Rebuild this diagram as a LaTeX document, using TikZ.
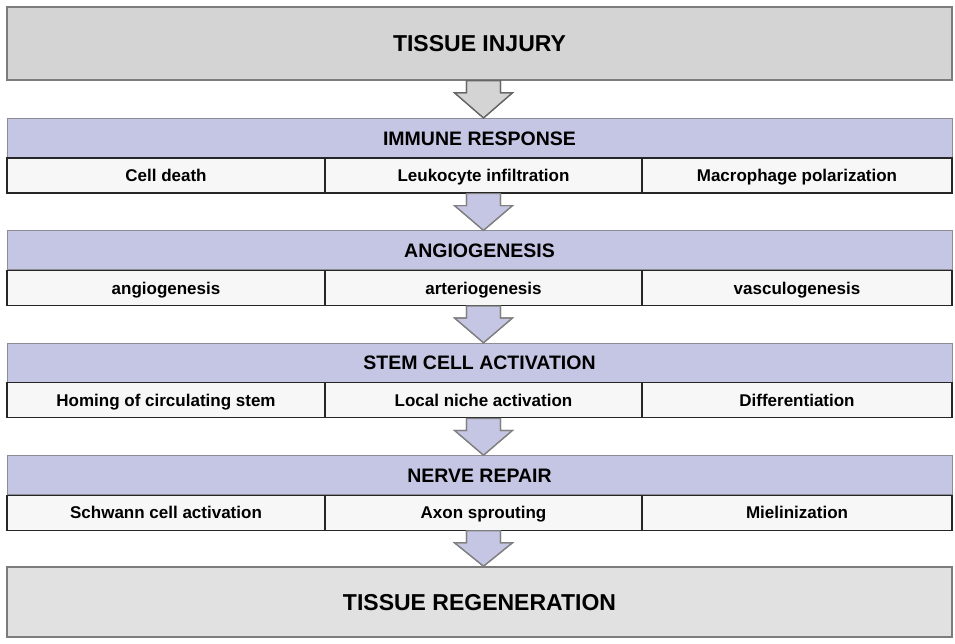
\documentclass[tikz,border=0pt]{standalone}
\usepackage{fontspec}
\setmainfont{Liberation Sans}
\usetikzlibrary{calc}
\definecolor{lav}{HTML}{C5C6E3}
\definecolor{graytop}{HTML}{D4D4D4}
\definecolor{graybot}{HTML}{E1E1E1}
\definecolor{edgegray}{HTML}{7C7C7C}
\definecolor{hdredge}{HTML}{8C8C96}
\definecolor{cellfill}{HTML}{F7F7F7}
\newcommand\blockarr[3]{%
  \coordinate (bas) at (#1);
  \coordinate (tip) at (#2);
  \fill[#3] ($(bas)+(-17,0)$) -- ($(bas)+(17,0)$) -- ($(bas)+(17,12)$) -- ($(bas)+(29,12)$) -- (tip)
     -- ($(bas)+(-29,12)$) -- ($(bas)+(-17,12)$) -- cycle;
  \draw[#3, fill=none, line join=miter] ($(bas)+(17,0)$) -- ($(bas)+(17,12)$) -- ($(bas)+(29,12)$) -- (tip)
     -- ($(bas)+(-29,12)$) -- ($(bas)+(-17,12)$) -- ($(bas)+(-17,0)$);
}
\begin{document}
\begin{tikzpicture}[x=1pt,y=-1pt,
  bigbox/.style={draw=edgegray, line width=1.6pt, minimum width=945pt, inner sep=0pt,
    text height=16.5pt, text depth=0pt, font=\fontsize{23}{26}\selectfont\bfseries},
  header/.style={draw=hdredge, line width=1pt, fill=lav, minimum width=945pt, minimum height=39pt,
    inner sep=0pt, text height=14pt, text depth=0pt, font=\fontsize{19.5}{22}\selectfont\bfseries},
  cell/.style={draw=black!85, line width=1.2pt, fill=cellfill, minimum height=35pt, inner sep=0pt,
    text height=12.2pt, text depth=0pt, font=\fontsize{17}{20}\selectfont\bfseries},
  arrgray/.style={fill=graytop, draw=black!60, line width=1.2pt},
  arrlav/.style={fill=lav, draw=black!50, line width=1.2pt}
]
\useasboundingbox (0,0) rectangle (955,643);
\fill[white] (0,0) rectangle (955,643);

% top and bottom boxes
\node[bigbox, fill=graytop, minimum height=73pt] (top) at (479.5,43.5) {TISSUE INJURY};
\node[bigbox, fill=graybot, minimum height=70pt] (bot) at (479.5,602) {TISSUE REGENERATION};

% row 1
\node[header] (h1) at (479.5,138) {IMMUNE RESPONSE};
\node[cell, minimum width=318pt] (c11) at (166,175.5) {Cell death};
\node[cell, minimum width=317pt] (c12) at (483.5,175.5) {Leukocyte infiltration};
\node[cell, minimum width=310pt] (c13) at (797,175.5) {Macrophage polarization};
% row 2
\node[header] (h2) at (479.5,250.4) {ANGIOGENESIS};
\node[cell, minimum width=318pt] (c21) at (166,287.9) {angiogenesis};
\node[cell, minimum width=317pt] (c22) at (483.5,287.9) {arteriogenesis};
\node[cell, minimum width=310pt] (c23) at (797,287.9) {vasculogenesis};
% row 3
\node[header] (h3) at (479.5,362.8) {STEM CELL ACTIVATION};
\node[cell, minimum width=318pt] (c31) at (166,400.3) {Homing of circulating stem};
\node[cell, minimum width=317pt] (c32) at (483.5,400.3) {Local niche activation};
\node[cell, minimum width=310pt] (c33) at (797,400.3) {Differentiation};
% row 4
\node[header] (h4) at (479.5,475.2) {NERVE REPAIR};
\node[cell, minimum width=318pt] (c41) at (166,512.7) {Schwann cell activation};
\node[cell, minimum width=317pt] (c42) at (483.5,512.7) {Axon sprouting};
\node[cell, minimum width=310pt] (c43) at (797,512.7) {Mielinization};

% block arrows
\blockarr{top.south -| c12.south}{h1.north -| c12.south}{arrgray}
\blockarr{c12.south}{h2.north -| c12.south}{arrlav}
\blockarr{c22.south}{h3.north -| c22.south}{arrlav}
\blockarr{c32.south}{h4.north -| c32.south}{arrlav}
\blockarr{c42.south}{bot.north -| c42.south}{arrlav}
\end{tikzpicture}
\end{document}
